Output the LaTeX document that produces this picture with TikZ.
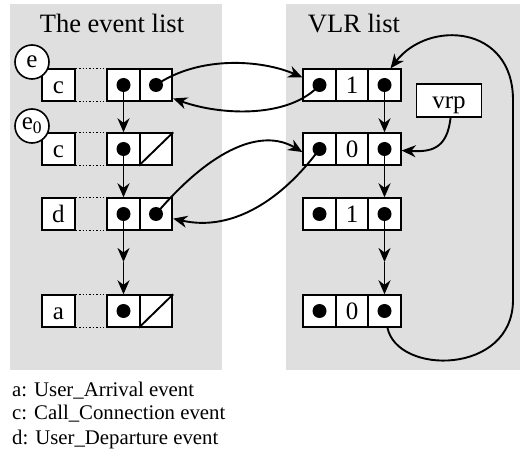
\documentclass[tikz,border=0pt]{standalone}
\usepackage{fontspec}
\setmainfont{Liberation Serif}
\usetikzlibrary{arrows.meta,calc}

\begin{document}
\begin{tikzpicture}[x=1pt,y=-1pt,
  panel/.style={fill=gray!25, draw=none},
  cell/.style={draw, line width=1.9pt, fill=white, minimum width=32.5pt,
    minimum height=31.5pt, inner sep=0pt, text height=17pt, text depth=0pt,
    font=\fontsize{25}{25}\selectfont},
  dot/.style={circle, fill=black, inner sep=0pt, minimum size=14pt},
  tag/.style={circle, draw, line width=1.6pt, fill=white, minimum size=34pt,
    inner sep=0pt, font=\fontsize{25}{25}\selectfont},
  gap/.style={line width=1.4pt, dotted},
  tip/.style={-{Stealth[length=14pt,width=12pt,inset=4.5pt]}},
  link/.style={line width=1.9pt, tip},
  title/.style={anchor=base, font=\fontsize{26.5}{30}\selectfont},
  legend/.style={anchor=base west, inner sep=0pt, font=\fontsize{20.8}{24}\selectfont}]

\useasboundingbox (0,0) rectangle (520,457);

% background panels
\fill[panel] (10,4) rectangle (222,370);
\fill[panel] (286,4) rectangle (520,370);

\node[title] (evtitle) at (112,33) {The event list};
\node[title] (vltitle) at (354,33) {VLR list};

% event list records: label, pointer cell, second cell
\foreach \r/\y/\l in {1/85/c, 2/149/c, 3/214/d, 4/311/a}{
  \node[cell] (ev\r l) at (58.5,\y) {\l};
  \node[cell] (ev\r a) at (123.5,\y) {};
  \node[cell] (ev\r b) at (156,\y) {};
  \draw[gap] (ev\r l.north east) -- (ev\r a.north west);
  \draw[gap] (ev\r l.south east) -- (ev\r a.south west);
  \node[dot] (ev\r ad) at (ev\r a) {};
}
\node[dot] (ev1bd) at (ev1b) {};
\node[dot] (ev3bd) at (ev3b) {};
\draw[line width=1.9pt] (ev2b.south west) -- (ev2b.north east);
\draw[line width=1.9pt] (ev4b.south west) -- (ev4b.north east);

% record tags
\node[tag] (tage) at (32,62) {e};
\node[tag] (tage0) at (32,126) {e\textsubscript{0}};

% VLR list records
\foreach \r/\y/\v in {1/85/1, 2/149/0, 3/214/1, 4/311/0}{
  \node[cell] (vl\r a) at (319.5,\y) {};
  \node[cell] (vl\r b) at (352,\y) {\v};
  \node[cell] (vl\r c) at (384.5,\y) {};
  \node[dot] (vl\r ad) at (vl\r a) {};
  \node[dot] (vl\r cd) at (vl\r c) {};
}

\node[cell, minimum width=65pt, minimum height=33pt] (vrp) at (449,100.5) {vrp};

% next pointers in the event list
\coordinate (evmid) at (123.5,262);
\draw[link] (ev1ad.center) -- (ev2a.north);
\draw[link] (ev2ad.center) -- (ev3a.north);
\draw[link] (ev3ad.center) -- (evmid);
\draw[link] (evmid) -- (ev4a.north);

% next pointers in the VLR list
\coordinate (vlmid) at (384.5,262);
\draw[link] (vl1cd.center) -- (vl2c.north);
\draw[link] (vl2cd.center) -- (vl3c.north);
\draw[link] (vl3cd.center) -- (vlmid);
\draw[link] (vlmid) -- (vl4c.north);

% cross links between the two lists
\draw[link] (ev1bd.center) .. controls (200,55) and (262,60) .. (vl1a.156);
\draw[link] (vl1ad.center) .. controls (290,118) and (222,116) .. (ev1b.-38);
\draw[link] (ev3bd.center) .. controls (212,148) and (262,128) .. (vl2a.-170);
\draw[link] (vl2ad.center) .. controls (282,200) and (232,232) .. (ev3b.-15);

% vrp pointer
\draw[link] (vrp.-85) .. controls (447,150) and (430,152) .. (vl2c.-5);

% wrap-around from the last VLR record to the first
\coordinate (loopA) at (513,300);
\coordinate (loopB) at (513,100);
\draw[link] (vl4c.-80) .. controls +(10,48) and +(0,75) .. (loopA) -- (loopB)
  .. controls +(0,-75) and +(38,-49) .. (vl1c.70);

% legend
\node[legend] (lga) at (12,396) {a: User\_Arrival event};
\node[legend] (lgc) at (12,420) {c: Call\_Connection event};
\node[legend] (lgd) at (12,444) {d: User\_Departure event};
\end{tikzpicture}
\end{document}
